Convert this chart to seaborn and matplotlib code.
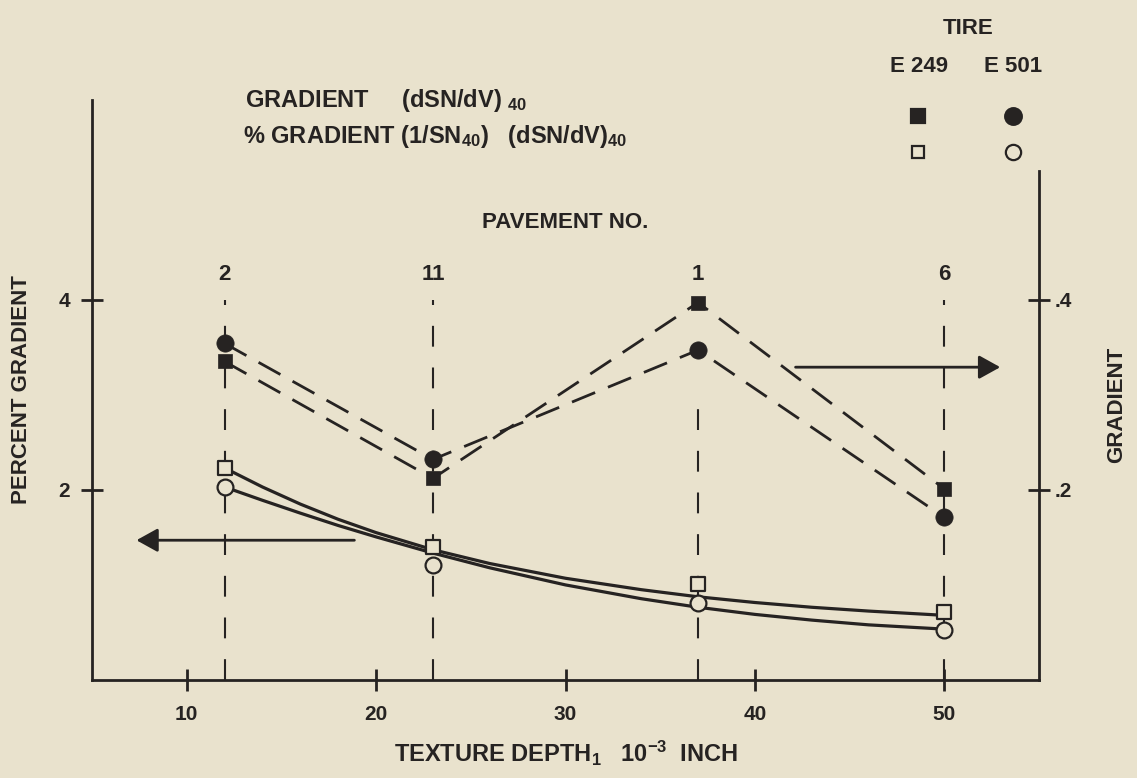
import matplotlib
matplotlib.use("Agg")
import matplotlib.pyplot as plt
import matplotlib.transforms as mtransforms
from matplotlib.lines import Line2D
import seaborn as sns
import pandas as pd

# ---------------- data ----------------
texture_depth = [12, 23, 37, 50]
pavement_no = ["2", "11", "1", "6"]
grad_e249 = [0.335, 0.212, 0.397, 0.201]      # filled squares (right axis)
grad_e501 = [0.354, 0.232, 0.347, 0.171]      # filled circles (right axis)
pct_e249 = [2.23, 1.40, 1.01, 0.71]           # open squares (left axis)
pct_e501 = [2.03, 1.21, 0.81, 0.53]           # open circles (left axis)

curve_x = [12, 14, 16, 18, 20, 23, 26, 30, 34, 37, 40, 43, 46, 50]
curve_e249 = [2.23, 2.03, 1.85, 1.69, 1.55, 1.37, 1.225, 1.07, 0.95, 0.875, 0.815, 0.765, 0.725, 0.68]
curve_e501 = [2.03, 1.89, 1.755, 1.625, 1.505, 1.335, 1.18, 1.00, 0.855, 0.765, 0.69, 0.63, 0.58, 0.535]

x_ticks = [10, 20, 30, 40, 50]
pct_ticks = [2, 4]
grad_ticks = [0.2, 0.4]
grad_tick_labels = [".2", ".4"]

# ---------------- style ----------------
sns.set_theme(style="white")
BG = "#e9e2cd"
INK = "#262322"
plt.rcParams["font.family"] = ["Liberation Sans", "DejaVu Sans"]
plt.rcParams["mathtext.default"] = "regular"
plt.rcParams["axes.facecolor"] = BG
plt.rcParams["figure.facecolor"] = BG

FS = 16
FSL = 17
FST = 15
FW = "bold"

fig = plt.figure(figsize=(11.37, 7.78), dpi=100)
W, H = 1137, 778
def fx(px):
    return px / W
def fy(py):
    return 1 - py / H

ax = fig.add_axes([fx(92), fy(680), fx(1039) - fx(92), fy(100) - fy(680)])
ax.set_xlim(5, 55)
ax.set_ylim(0, 6.1)
ax2 = ax.twinx()
ax2.set_ylim(0, 0.61)

for a in (ax, ax2):
    a.set_facecolor("none")
    for s in a.spines.values():
        s.set_color(INK)
        s.set_linewidth(2.0)
    a.spines["top"].set_visible(False)
ax.spines["right"].set_visible(False)
ax2.spines["left"].set_visible(False)
ax2.spines["bottom"].set_visible(False)
ax2.spines["right"].set_bounds(0, 0.535)

# vertical dashed pavement lines
df_p = pd.DataFrame({"x": texture_depth, "lab": pavement_no, "top": [4.0, 4.0, 3.0, 4.0]})
for xv, top in zip(df_p["x"], df_p["top"]):
    ax.axvline(xv, ymin=0, ymax=top / 6.1, color=INK, lw=1.5,
               linestyle=(0, (10, 10)), zorder=1)

# dashed connecting lines for gradient
df_g = pd.DataFrame({"x": texture_depth, "e249": grad_e249, "e501": grad_e501})
sns.lineplot(data=df_g, x="x", y="e249", ax=ax2, color=INK, lw=2.0,
             linestyle=(0, (9, 5)), zorder=2)
sns.lineplot(data=df_g, x="x", y="e501", ax=ax2, color=INK, lw=2.0,
             linestyle=(0, (9, 5)), zorder=2)
sns.scatterplot(data=df_g, x="x", y="e249", ax=ax2, marker="s", s=115,
                color=INK, edgecolor=INK, linewidth=0.5, zorder=4)
sns.scatterplot(data=df_g, x="x", y="e501", ax=ax2, marker="o", s=155,
                color=INK, edgecolor=INK, linewidth=0.5, zorder=4)

# solid fitted curves for percent gradient
df_c = pd.DataFrame({"x": curve_x, "e249": curve_e249, "e501": curve_e501})
sns.lineplot(data=df_c, x="x", y="e249", ax=ax, color=INK, lw=2.3, zorder=2)
sns.lineplot(data=df_c, x="x", y="e501", ax=ax, color=INK, lw=2.3, zorder=2)
df_o = pd.DataFrame({"x": texture_depth, "e249": pct_e249, "e501": pct_e501})
sns.scatterplot(data=df_o, x="x", y="e249", ax=ax, marker="s", s=95,
                facecolor=BG, edgecolor=INK, linewidth=1.6, zorder=5)
sns.scatterplot(data=df_o, x="x", y="e501", ax=ax, marker="o", s=130,
                facecolor=BG, edgecolor=INK, linewidth=1.6, zorder=5)

# ticks
ax.set_xticks(x_ticks)
ax.set_xticklabels([str(t) for t in x_ticks])
ax.set_yticks(pct_ticks)
ax.set_yticklabels([str(t) for t in pct_ticks])
ax2.set_yticks(grad_ticks)
ax2.set_yticklabels(grad_tick_labels)
ax.tick_params(axis="x", direction="inout", length=16, width=2, color=INK,
               labelsize=FST, labelcolor=INK, pad=10, bottom=True)
ax.tick_params(axis="y", direction="inout", length=16, width=2, color=INK,
               labelsize=FST, labelcolor=INK, pad=8, left=True)
ax2.tick_params(axis="y", direction="inout", length=16, width=2, color=INK,
                labelsize=FST, labelcolor=INK, pad=3, right=True)
for lab in ax.get_xticklabels() + ax.get_yticklabels() + ax2.get_yticklabels():
    lab.set_fontweight(FW)

ax.set_xlabel("")
ax.set_ylabel("")
ax2.set_ylabel("")

# arrows
ax.annotate("", xy=(7.2, 1.47), xytext=(19.0, 1.47),
            arrowprops=dict(arrowstyle="-|>,head_length=0.65,head_width=0.36",
                            mutation_scale=20, color=INK, lw=2))
ax.annotate("", xy=(53.1, 3.29), xytext=(42.0, 3.29),
            arrowprops=dict(arrowstyle="-|>,head_length=0.65,head_width=0.36",
                            mutation_scale=20, color=INK, lw=2))

# axis titles
fig.text(fx(22), fy(390), "PERCENT GRADIENT", rotation=90, ha="center", va="center",
         fontsize=FS, fontweight=FW, color=INK)
fig.text(fx(1117), fy(405), "GRADIENT", rotation=90, ha="center", va="center",
         fontsize=FS, fontweight=FW, color=INK)
fig.text(fx(566), fy(753), "TEXTURE DEPTH$_1$   10$^{-3}$  INCH", ha="center", va="center",
         fontsize=FSL, fontweight=FW, color=INK)

# pavement labels
fig.text(fx(565), fy(222), "PAVEMENT NO.", ha="center", va="center",
         fontsize=FS, fontweight=FW, color=INK)
blend = mtransforms.blended_transform_factory(ax.transData, fig.transFigure)
for xv, lab in zip(df_p["x"], df_p["lab"]):
    ax.text(xv, fy(275), lab, transform=blend, ha="center", va="center",
            fontsize=FS, fontweight=FW, color=INK)

# legend texts
fig.text(fx(245), fy(100), "GRADIENT     (dSN/dV) $_{40}$", ha="left", va="center",
         fontsize=FSL, fontweight=FW, color=INK)
fig.text(fx(243), fy(137), "% GRADIENT (1/SN$_{40}$)   (dSN/dV)$_{40}$", ha="left", va="center",
         fontsize=FSL, fontweight=FW, color=INK)
fig.text(fx(968), fy(28), "TIRE", ha="center", va="center",
         fontsize=FS, fontweight=FW, color=INK)
fig.text(fx(919), fy(67), "E 249", ha="center", va="center",
         fontsize=FS, fontweight=FW, color=INK)
fig.text(fx(1013), fy(67), "E 501", ha="center", va="center",
         fontsize=FS, fontweight=FW, color=INK)

for (px, py, m, filled, ms) in [(918, 116, "s", True, 10), (1013, 116, "o", True, 12),
                                (918, 152, "s", False, 9), (1013, 152, "o", False, 11)]:
    fig.add_artist(Line2D([fx(px)], [fy(py)], transform=fig.transFigure, marker=m,
                          markersize=ms, markerfacecolor=INK if filled else BG,
                          markeredgecolor=INK, markeredgewidth=1.6, linestyle="none"))

fig.savefig("out.png", dpi=100, facecolor=BG)
